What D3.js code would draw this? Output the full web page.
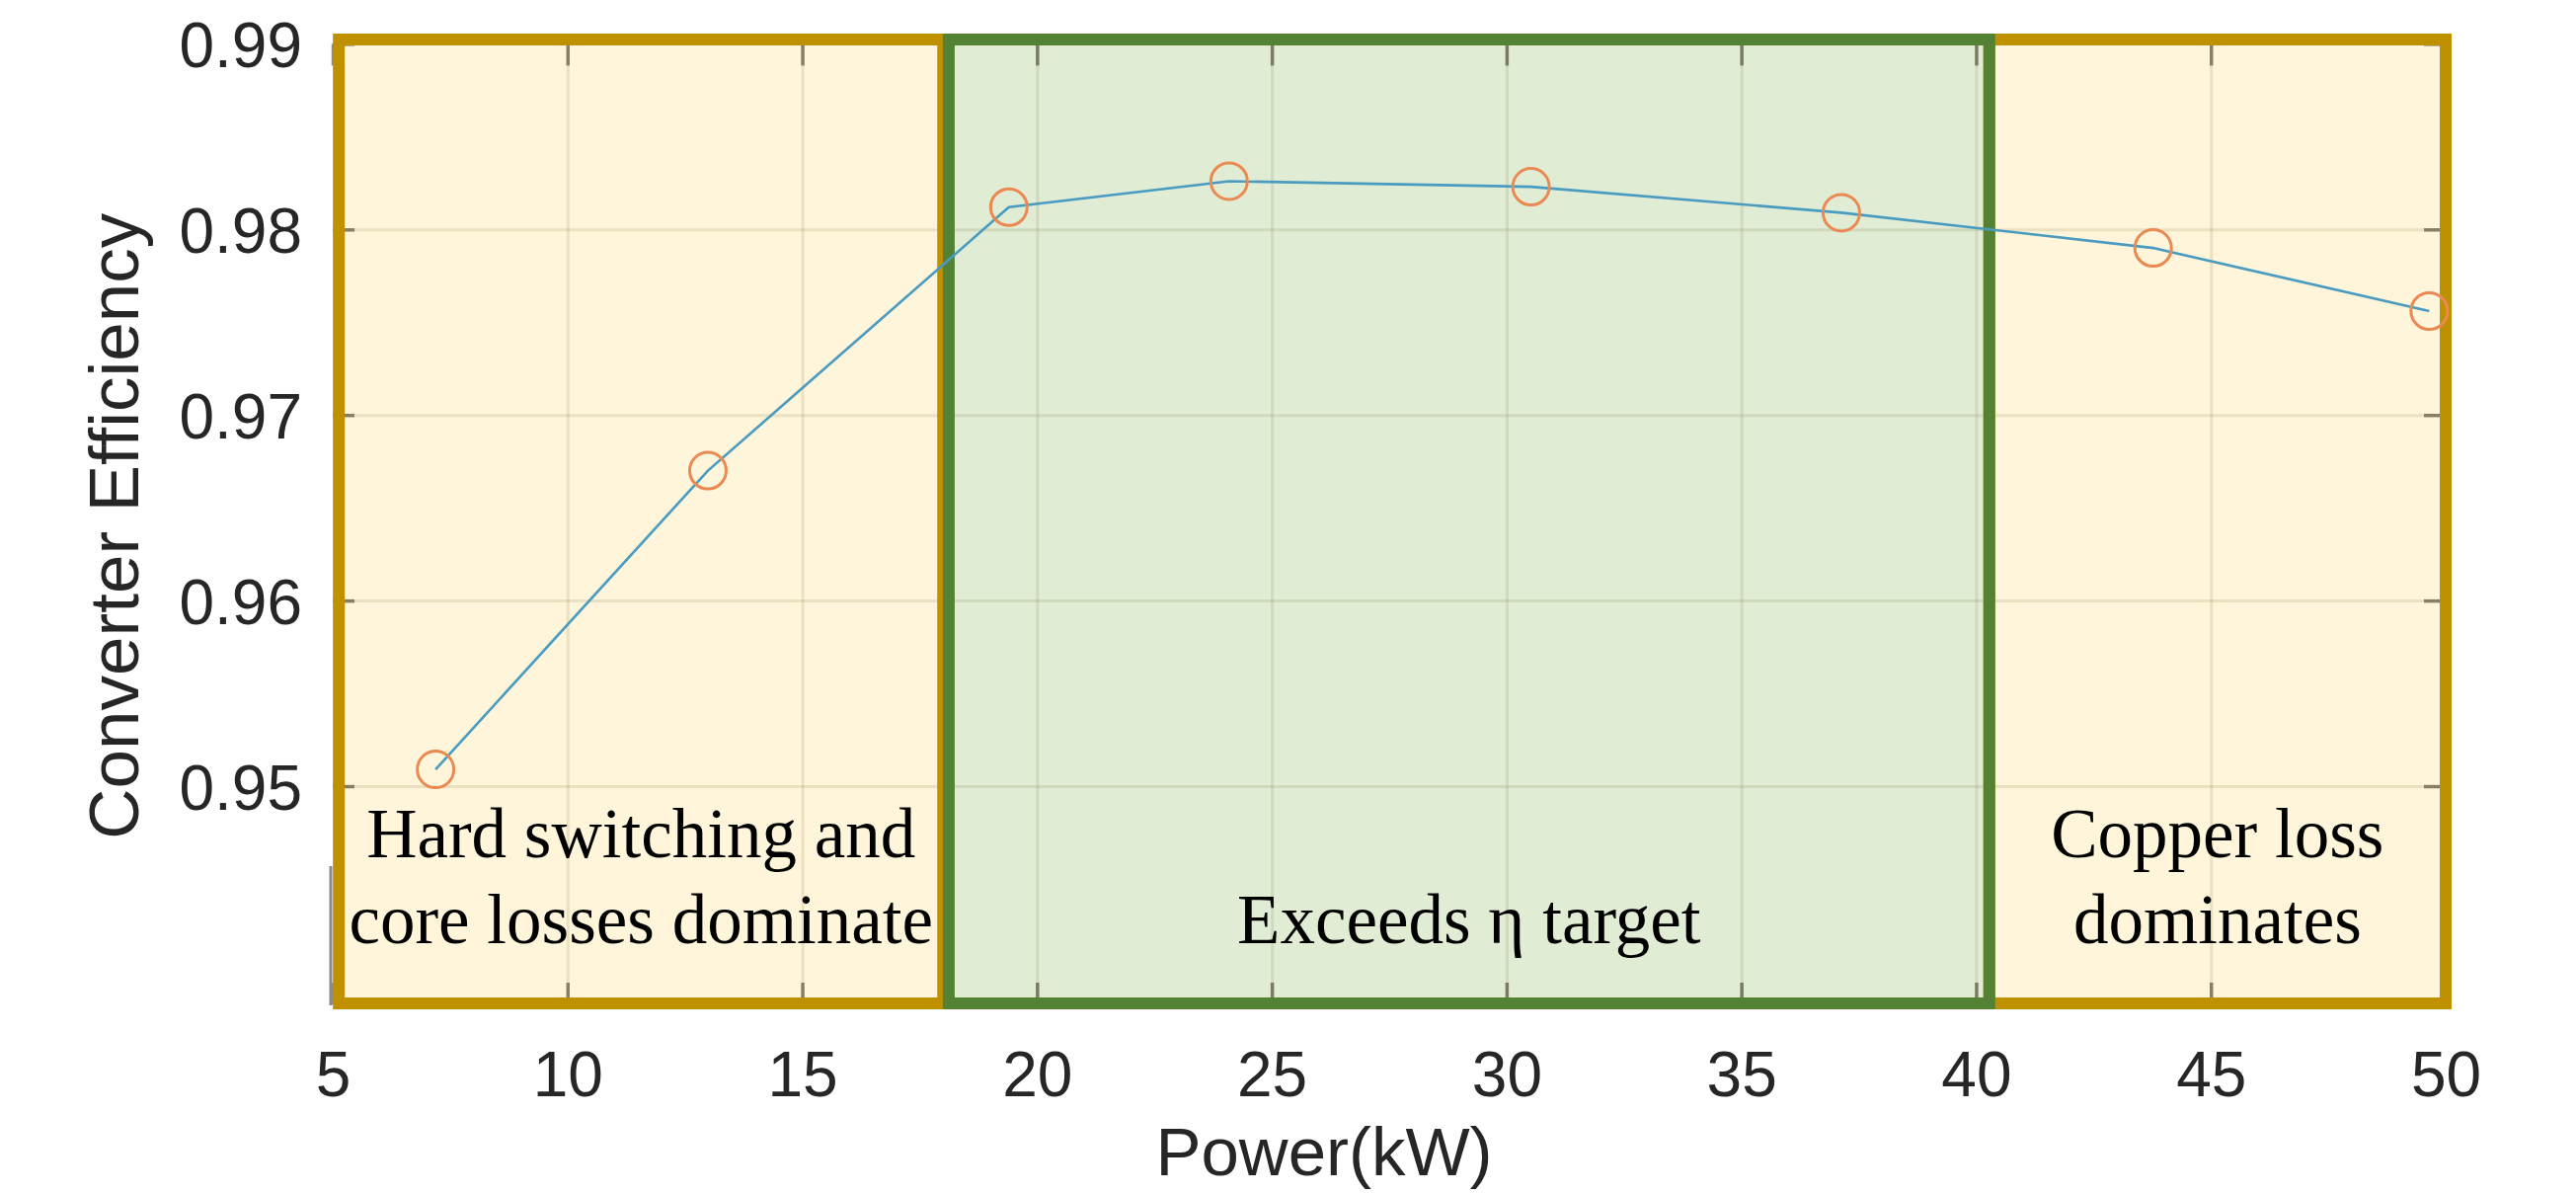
<!DOCTYPE html>
<html>
<head>
<meta charset="utf-8">
<script src="https://cdn.jsdelivr.net/npm/d3@7"></script>
<style>
  html, body { margin: 0; padding: 0; background: #ffffff; }
  svg { display: block; }
</style>
</head>
<body>
<svg id="chart" width="2609" height="1209"></svg>
<script>
// ---------------- data ----------------
const power = [7.19, 12.99, 19.4, 24.09, 30.52, 37.13, 43.77, 49.65];
const efficiency = [0.9509, 0.9670, 0.9812, 0.9826, 0.9823, 0.9809, 0.9790, 0.9756];

const xTicks = [5, 10, 15, 20, 25, 30, 35, 40, 45, 50];
const yTicks = [0.95, 0.96, 0.97, 0.98, 0.99];

const regionNames = ["low", "target", "high"];
const regionStart = [5.13, 18.12, 40.28];
const regionEnd = [18.0, 40.28, 50];
const regionLabels = [
  ["Hard switching and", "core losses dominate"],
  ["Exceeds \u03b7 target"],
  ["Copper loss", "dominates"]
];

// ---------------- layout ----------------
const W = 2609, H = 1209;
const xLeft = 337, xRight = 2477;
const yTopPx = 44.4, yBottomPx = 1017;
const yMin = 0.93824, yMax = 0.99;

const svg = d3.select("#chart");
svg.append("rect").attr("width", W).attr("height", H).attr("fill", "#ffffff");

const x = d3.scaleLinear().domain([5, 50]).range([xLeft, xRight]);
const y = d3.scaleLinear().domain([yMin, yMax]).range([yBottomPx, yTopPx]);

const borderTop = y(yMax) - 4.4;
const borderBottom = y(yMin) - 1;

const fills = { low: "#FEF5DA", target: "#E1ECD5", high: "#FEF5DA" };
const strokes = { low: "#BF9000", target: "#548235", high: "#BF9000" };

const regions = regionNames.map((n, i) => ({
  name: n, x0: regionStart[i], x1: regionEnd[i], lines: regionLabels[i]
}));

// region fills
svg.append("g").selectAll("rect").data(regions).join("rect")
  .attr("x", d => x(d.x0)).attr("y", borderTop)
  .attr("width", d => x(d.x1) - x(d.x0))
  .attr("height", borderBottom - borderTop)
  .attr("fill", d => fills[d.name]);

// grid lines
const gridColor = "rgba(110,90,30,0.13)";
const gx = svg.append("g").attr("transform", `translate(0,${yBottomPx})`)
  .call(d3.axisBottom(x).tickValues(xTicks.slice(1, -1)).tickSize(-(yBottomPx - yTopPx)).tickFormat(""));
gx.select(".domain").remove();
gx.selectAll("line").attr("stroke", gridColor).attr("stroke-width", 3);

const gy = svg.append("g").attr("transform", `translate(${xLeft},0)`)
  .call(d3.axisLeft(y).tickValues(yTicks.slice(0, -1)).tickSize(-(xRight - xLeft)).tickFormat(""));
gy.select(".domain").remove();
gy.selectAll("line").attr("stroke", gridColor).attr("stroke-width", 3);

// inner tick marks on all four sides
const tickLen = 22;
const tickColor = "rgba(55,45,20,0.55)";
function tickAxis(axis, tx, ty) {
  const g = svg.append("g").attr("transform", `translate(${tx},${ty})`).call(axis);
  g.select(".domain").remove();
  g.selectAll("line").attr("stroke", tickColor).attr("stroke-width", 3.5);
  return g;
}
tickAxis(d3.axisBottom(x).tickValues(xTicks).tickSize(-tickLen).tickFormat(""), 0, yBottomPx);
tickAxis(d3.axisTop(x).tickValues(xTicks).tickSize(-tickLen).tickFormat(""), 0, yTopPx);
tickAxis(d3.axisLeft(y).tickValues(yTicks).tickSize(-tickLen).tickFormat(""), xLeft, 0);
tickAxis(d3.axisRight(y).tickValues(yTicks).tickSize(-tickLen).tickFormat(""), xRight, 0);

// visible fragment of the left axis line
svg.append("line")
  .attr("x1", xLeft - 2).attr("x2", xLeft - 2)
  .attr("y1", y(0.94569)).attr("y2", yBottomPx + 1)
  .attr("stroke", "#8a8a8a").attr("stroke-width", 3);

// region borders (gold first, green on top)
const order = ["low", "high", "target"];
svg.append("g").selectAll("rect")
  .data(order.map(n => regions.find(r => r.name === n))).join("rect")
  .attr("x", d => x(d.x0)).attr("y", borderTop)
  .attr("width", d => x(d.x1) - x(d.x0))
  .attr("height", borderBottom - borderTop)
  .attr("fill", "none")
  .attr("stroke", d => strokes[d.name])
  .attr("stroke-width", 12);

// tick labels
const labelFont = "'Liberation Sans', Arial, sans-serif";
const xl = svg.append("g").attr("transform", `translate(0,${yBottomPx})`)
  .call(d3.axisBottom(x).tickValues(xTicks).tickSize(0).tickPadding(48).tickFormat(d3.format("d")));
xl.select(".domain").remove();
xl.selectAll("text").attr("font-family", labelFont).attr("font-size", 64).attr("fill", "#262626");

const yl = svg.append("g").attr("transform", `translate(${xLeft},0)`)
  .call(d3.axisLeft(y).tickValues(yTicks).tickSize(0).tickPadding(31).tickFormat(d3.format(".2f")));
yl.select(".domain").remove();
yl.selectAll("text").attr("font-family", labelFont).attr("font-size", 64).attr("fill", "#262626").attr("dy", "0.36em");

// axis titles
svg.append("text")
  .attr("x", 1341).attr("y", 1190)
  .attr("text-anchor", "middle")
  .attr("font-family", labelFont).attr("font-size", 69).attr("fill", "#262626")
  .text("Power(kW)");

svg.append("text")
  .attr("transform", `translate(140,${(yTopPx + yBottomPx) / 2 + 2}) rotate(-90)`)
  .attr("text-anchor", "middle")
  .attr("font-family", labelFont).attr("font-size", 71).attr("fill", "#262626")
  .text("Converter Efficiency");

// region labels
const serif = "'Liberation Serif', 'Times New Roman', serif";
const lineBase = [955];
regions.forEach(r => {
  const cx = (x(r.x0) + x(r.x1)) / 2;
  const n = r.lines.length;
  r.lines.forEach((t, i) => {
    svg.append("text")
      .attr("x", cx).attr("y", 955 - (n - 1 - i) * 87)
      .attr("text-anchor", "middle")
      .attr("font-family", serif).attr("font-size", 71).attr("fill", "#000000")
      .text(t);
  });
});

// data line and markers
const pts = power.map((p, i) => ({ p, e: efficiency[i] }));
svg.append("path")
  .datum(pts)
  .attr("fill", "none")
  .attr("stroke", "#4A9BC0")
  .attr("stroke-width", 2.6)
  .attr("d", d3.line().x(d => x(d.p)).y(d => y(d.e)));

svg.append("g").selectAll("circle").data(pts).join("circle")
  .attr("cx", d => x(d.p)).attr("cy", d => y(d.e))
  .attr("r", 18.5)
  .attr("fill", "none")
  .attr("stroke", "#EA8A52")
  .attr("stroke-width", 3);
</script>
</body>
</html>
